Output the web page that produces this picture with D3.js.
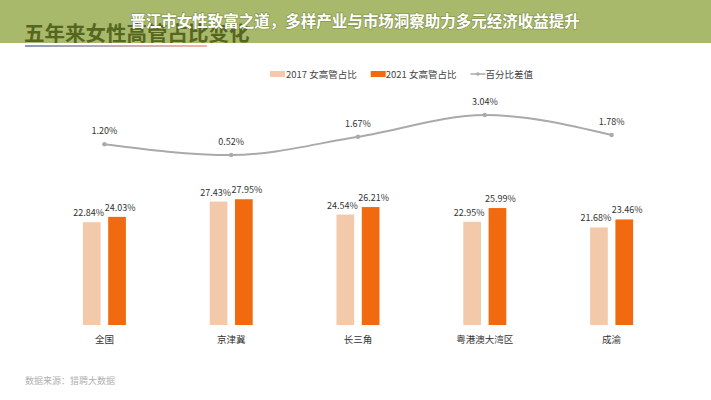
<!DOCTYPE html>
<html><head><meta charset="utf-8">
<script src="https://cdn.jsdelivr.net/npm/d3@7"></script>
<style>
html,body{margin:0;padding:0;background:#fff;}
svg{display:block;font-family:"Noto Sans CJK SC","Noto Sans",sans-serif;}
</style></head>
<body><svg id="c" width="711" height="400"></svg>
<script>
const categories = ["全国","京津冀","长三角","粤港澳大湾区","成渝"];
const values2017 = [22.84,27.43,24.54,22.95,21.68];
const values2021 = [24.03,27.95,26.21,25.99,23.46];
const diffValues = [1.20,0.52,1.67,3.04,1.78];
const seriesNames = ["2017 女高管占比","2021 女高管占比","百分比差值"];
const mainTitle = "晋江市女性致富之道，多样产业与市场洞察助力多元经济收益提升";
const chartTitle = "五年来女性高管占比变化";
const sourceText = "数据来源：猎聘大数据";

const svg = d3.select("#c");
const W = 711, H = 400;
const colors = ["#f2c9aa","#f26a10","#aaaaaa"];

// header band
const defs = svg.append("defs");
defs.append("clipPath").attr("id","bandclip").append("rect").attr("x",0).attr("y",0).attr("width",W).attr("height",43);
const grad = defs.append("linearGradient").attr("id","ul").attr("x1","0").attr("x2","1");
grad.append("stop").attr("offset","0").attr("stop-color","#8c9bb8");
grad.append("stop").attr("offset","0.6").attr("stop-color","#c8b0b0");
grad.append("stop").attr("offset","1").attr("stop-color","#f0b8a0");

svg.append("rect").attr("x",0).attr("y",0).attr("width",W).attr("height",43).attr("fill","#a9b96b");
svg.append("text").attr("clip-path","url(#bandclip)")
  .attr("x",24).attr("y",41).attr("font-size",20.5).attr("font-weight","bold")
  .attr("fill","#55661f").text(chartTitle);
svg.append("rect").attr("x",25).attr("y",45).attr("width",182).attr("height",2).attr("fill","url(#ul)");
svg.append("text").attr("x",355).attr("y",27).attr("text-anchor","middle")
  .attr("font-size",15.5).attr("font-weight","bold").attr("fill","#ffffff")
  .style("paint-order","stroke").attr("stroke","rgba(80,90,40,0.35)").attr("stroke-width",1.5)
  .text(mainTitle);

// scales
const x = d3.scaleBand().domain(categories).range([41,675]).paddingInner(0).paddingOuter(0);
const xs = d3.scaleBand().domain(["2017","2021"]).range([-21.5,21.5]).paddingInner(0.3);
const yBar = d3.scaleLinear().domain([0,30]).range([325,190]);
const yLine = d3.scaleLinear().domain([0,4]).range([163.3,99.8]);
const cx = c => x(c) + x.bandwidth()/2;

// bars
const series = [{key:"2017",vals:values2017,color:colors[0]},{key:"2021",vals:values2021,color:colors[1]}];
series.forEach(s=>{
  const g = svg.append("g");
  g.selectAll("rect").data(categories).join("rect")
    .attr("x",(c)=>cx(c)+xs(s.key))
    .attr("y",(c,i)=>yBar(s.vals[i]))
    .attr("width",xs.bandwidth())
    .attr("height",(c,i)=>yBar(0)-yBar(s.vals[i]))
    .attr("fill",s.color);
  g.selectAll("text").data(categories).join("text")
    .attr("x",(c)=>cx(c)+xs(s.key)+xs.bandwidth()/2 + (s.key==="2017"?-3:3))
    .attr("y",(c,i)=>yBar(s.vals[i])-6)
    .attr("text-anchor","middle").attr("font-size",9).attr("fill","#333")
    .text((c,i)=>s.vals[i].toFixed(2)+"%");
});

// category labels
svg.append("g").selectAll("text").data(categories).join("text")
  .attr("x",c=>cx(c)).attr("y",343).attr("text-anchor","middle")
  .attr("font-size",9.5).attr("fill","#333").text(c=>c);

// line
const line = d3.line().x((d,i)=>cx(categories[i])).y(d=>yLine(d)).curve(d3.curveMonotoneX);
svg.append("path").attr("d",line(diffValues)).attr("fill","none").attr("stroke",colors[2]).attr("stroke-width",2);
svg.append("g").selectAll("circle").data(diffValues).join("circle")
  .attr("cx",(d,i)=>cx(categories[i])).attr("cy",d=>yLine(d)).attr("r",2.2).attr("fill",colors[2]);
svg.append("g").selectAll("text").data(diffValues).join("text")
  .attr("x",(d,i)=>cx(categories[i])).attr("y",d=>yLine(d)-10)
  .attr("text-anchor","middle").attr("font-size",9).attr("fill","#333")
  .text(d=>d.toFixed(2)+"%");

// legend
const lg = svg.append("g").attr("font-size",9.5).attr("fill","#444");
let lx = 270;
seriesNames.forEach((n,i)=>{
  const it = lg.append("g").attr("transform",`translate(${lx},0)`);
  if(i<2){
    it.append("rect").attr("x",0).attr("y",71).attr("width",15).attr("height",6).attr("fill",colors[i]);
  } else {
    it.append("line").attr("x1",0).attr("x2",15).attr("y1",74).attr("y2",74).attr("stroke",colors[2]).attr("stroke-width",1.5);
    it.append("circle").attr("cx",7.5).attr("cy",74).attr("r",1.8).attr("fill",colors[2]);
  }
  const t = it.append("text").attr("x",i===0?16:15).attr("y",77.5).text(n);
  const w = t.node().getComputedTextLength();
  lx += (i===0?16:15) + w + 14;
});

// source
svg.append("text").attr("x",25).attr("y",384).attr("font-size",9).attr("fill","#b0b0b0").text(sourceText);
</script></body></html>
